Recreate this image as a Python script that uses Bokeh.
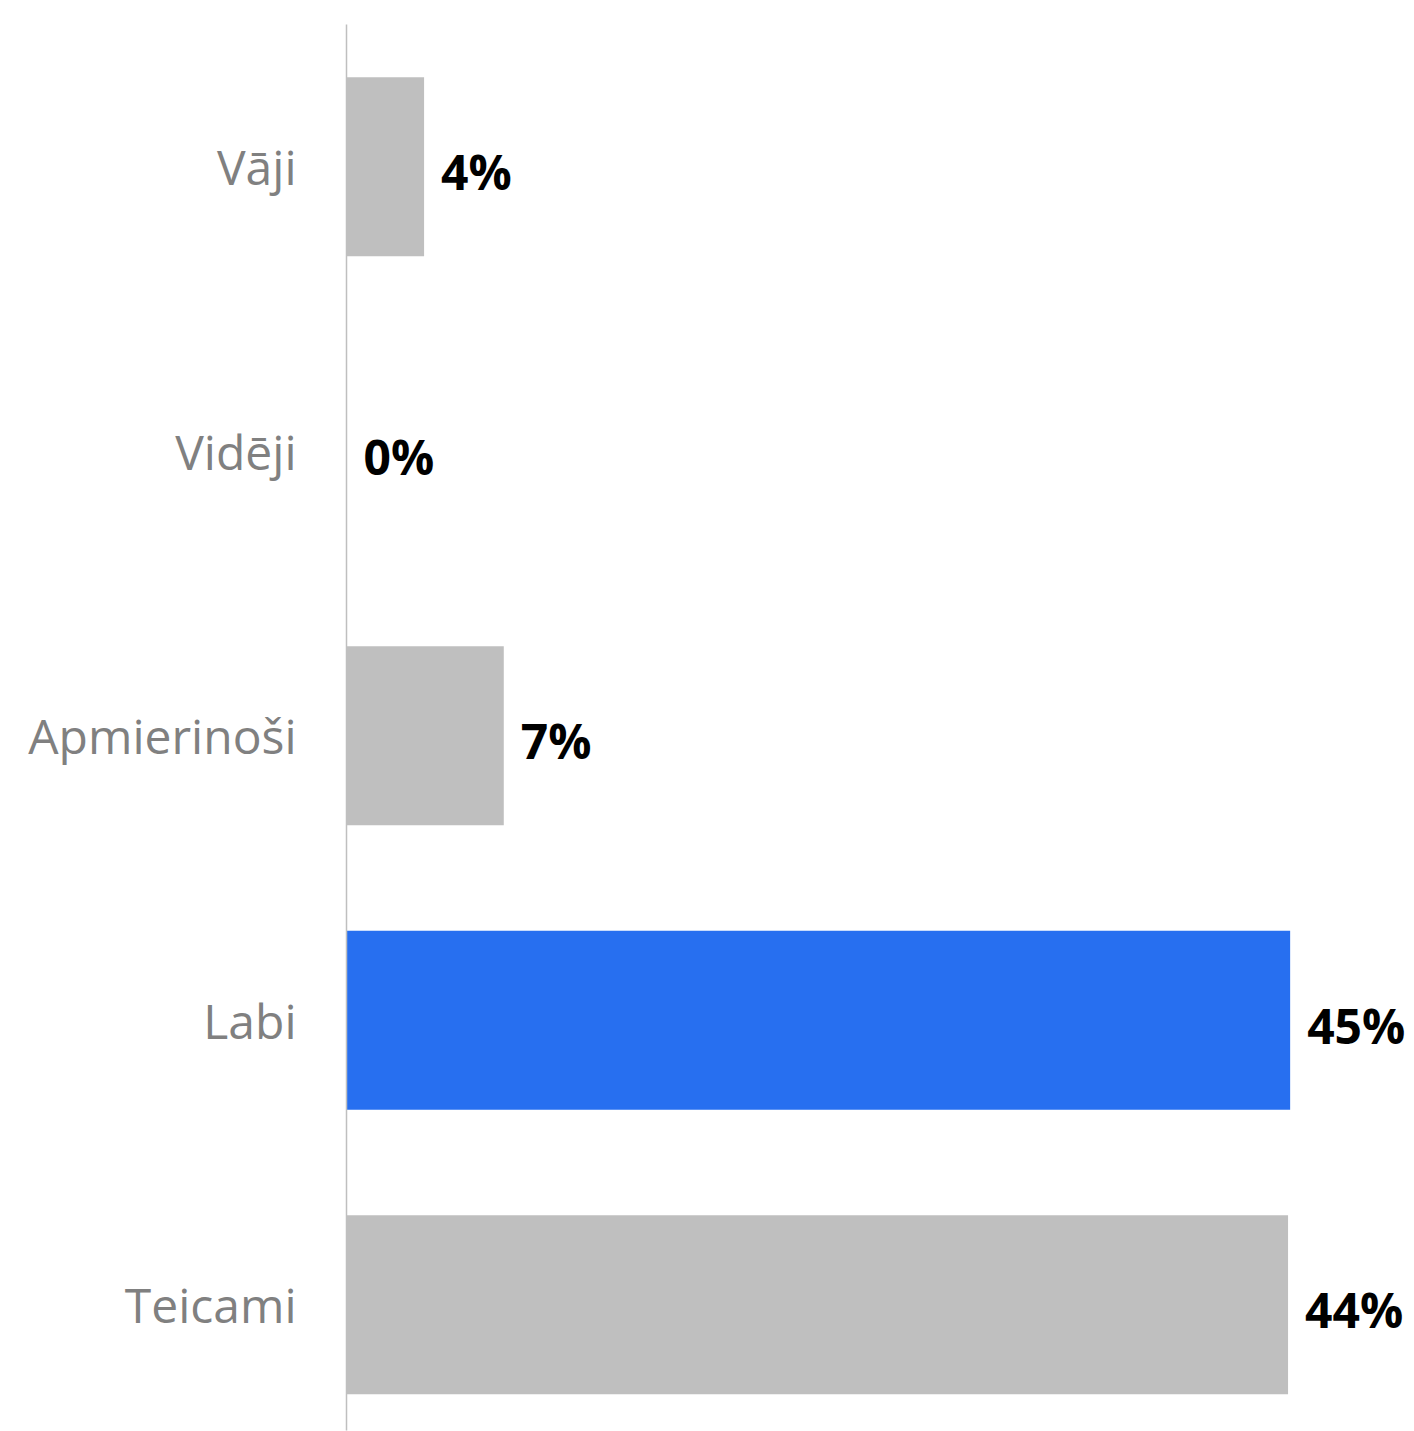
from bokeh.plotting import figure
from bokeh.models import ColumnDataSource, Range1d, FixedTicker
from bokeh.core.properties import value
from bokeh.embed import file_html
from bokeh.resources import INLINE

categories = ["Vāji", "Vidēji", "Apmierinoši", "Labi", "Teicami"]
shares = [3.7, 0.0, 7.5, 45.0, 44.9]
share_labels = ["4%", "0%", "7%", "45%", "44%"]
highlight = "Labi"

GREY = "#bfbfbf"
BLUE = "#276ff0"

idx = list(range(len(categories)))
colors = [BLUE if c == highlight else GREY for c in categories]

src = ColumnDataSource(dict(y=idx, x=shares, lab=share_labels, color=colors))

p = figure(width=1414, height=1431, output_backend="svg", toolbar_location=None,
           x_range=Range1d(0, 50.93), y_range=Range1d(start=4.442, end=-0.5),
           min_border_left=346, min_border_right=0, min_border_top=24, min_border_bottom=1)

p.hbar(y="y", left=0, right="x", height=0.63, color="color", line_color=None, source=src)
p.text(x="x", y="y", text="lab", source=src, x_offset=17, y_offset=5,
       text_align="left", text_baseline="middle", text_color="#000000",
       text_font=value("Open Sans"), text_font_style="bold", text_font_size="48px")

p.xaxis.visible = False
p.xgrid.visible = False
p.ygrid.visible = False
p.outline_line_color = None

ax = p.yaxis[0]
ax.ticker = FixedTicker(ticks=idx)
ax.major_label_overrides = {i: c for i, c in zip(idx, categories)}
ax.major_tick_line_color = None
ax.minor_tick_line_color = None
ax.major_tick_out = 0
ax.major_tick_in = 0
ax.axis_line_color = "#bfbfbf"
ax.axis_line_width = 1.5
ax.major_label_standoff = 50
ax.major_label_text_font = "Open Sans"
ax.major_label_text_font_size = "48px"
ax.major_label_text_color = "#808080"

open("out.html", "w").write(file_html(p, INLINE))
